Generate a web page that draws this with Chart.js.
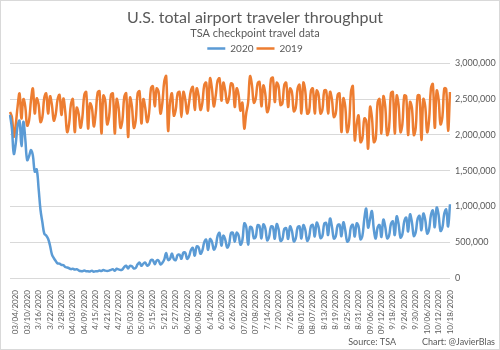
<!DOCTYPE html>
<html>
<head>
<meta charset="utf-8">
<script src="https://cdn.jsdelivr.net/npm/chart.js@4.4.0/dist/chart.umd.min.js"></script>
<style>
  html, body { margin: 0; padding: 0; background: #fff; }
  #wrap { width: 500px; height: 350px; position: relative; }
</style>
</head>
<body>
<div id="wrap"><canvas id="tsaChart" width="500" height="350"></canvas></div>
<script>
// Daily throughput in thousands, 3/1/2020 .. 10/18/2020 (one row per week, Sun..Sat)
const traveler2020 = [
  2281, 2090, 1736, 1877, 2130, 2199, 1845,
  2183, 1950, 1650, 1703, 1788, 1714, 1486,
  1519, 1258, 954, 780, 621, 593, 548,
  455, 331, 279, 239, 204, 200, 184,
  180, 154, 146, 136, 124, 130, 118,
  122, 108, 97, 95, 104, 94, 93,
  91, 102, 88, 95, 95, 105, 97,
  112, 103, 99, 103, 114, 123, 102,
  129, 120, 111, 120, 155, 172, 134,
  170, 163, 133, 142, 191, 216, 170,
  201, 215, 174, 190, 250, 251, 193,
  243, 244, 191, 212, 261, 349, 253,
  267, 341, 265, 249, 321, 327, 268,
  353, 353, 267, 304, 391, 419, 312,
  441, 430, 339, 387, 502, 535, 393,
  545, 509, 398, 441, 590, 631, 453,
  591, 538, 426, 470, 628, 632, 508,
  633, 596, 466, 527, 764, 718, 466,
  711, 701, 557, 574, 737, 724, 554,
  749, 700, 528, 573, 718, 715, 548,
  752, 683, 519, 545, 686, 697, 546,
  720, 660, 512, 552, 708, 721, 551,
  738, 677, 521, 567, 725, 740, 580,
  774, 711, 559, 589, 759, 766, 601,
  831, 721, 552, 581, 735, 746, 583,
  778, 672, 510, 540, 713, 743, 580,
  764, 720, 540, 589, 823, 968, 705,
  820, 935, 682, 552, 707, 740, 574,
  815, 716, 555, 590, 756, 790, 600,
  860, 757, 566, 612, 792, 845, 651,
  889, 779, 587, 641, 827, 867, 668,
  900, 814, 622, 679, 881, 943, 709,
  984, 884, 659, 705, 900, 957, 720,
  1031
];

// Same weekday one year earlier, thousands
const traveler2019 = [
  2320, 2250, 1975, 2140, 2400, 2580, 2230,
  2500, 2400, 2130, 2200, 2480, 2650, 2300,
  2510, 2430, 2180, 2250, 2520, 2580, 2300,
  2540, 2420, 2200, 2290, 2500, 2560, 2280,
  2510, 2330, 2040, 2150, 2430, 2500, 2040,
  2380, 2300, 2100, 2250, 2560, 2600, 2090,
  2440, 2380, 2120, 2300, 2590, 2610, 2020,
  2550, 2480, 2150, 2250, 2560, 2580, 2020,
  2500, 2380, 2100, 2200, 2530, 2580, 1970,
  2520, 2400, 2100, 2200, 2580, 2610, 2160,
  2500, 2380, 2180, 2300, 2650, 2680, 2400,
  2650, 2600, 2300, 2450, 2750, 2820, 2060,
  2450, 2580, 2270, 2350, 2580, 2600, 2250,
  2600, 2500, 2300, 2450, 2620, 2670, 2350,
  2650, 2550, 2350, 2450, 2700, 2730, 2340,
  2790, 2650, 2400, 2550, 2760, 2790, 2480,
  2730, 2620, 2450, 2520, 2720, 2700, 2390,
  2650, 2560, 2340, 2450, 2090, 2300, 2450,
  2820, 2700, 2450, 2510, 2720, 2740, 2400,
  2690, 2580, 2320, 2400, 2780, 2800, 2460,
  2730, 2680, 2420, 2440, 2700, 2730, 2390,
  2650, 2600, 2330, 2380, 2650, 2700, 2300,
  2730, 2620, 2300, 2320, 2620, 2650, 2300,
  2620, 2560, 2300, 2350, 2620, 2620, 2300,
  2600, 2500, 2250, 2300, 2560, 2580, 2040,
  2510, 2400, 2040, 2150, 2600, 2680, 1930,
  2150, 2270, 1900, 1950, 2230, 2200, 1810,
  2390, 2250, 1900, 1950, 2450, 2500, 2020,
  2540, 2400, 2000, 2100, 2580, 2600, 2020,
  2550, 2420, 2040, 2150, 2550, 2540, 2000,
  2460, 2380, 2000, 2100, 2550, 2550, 1930,
  2500, 2400, 2040, 2200, 2650, 2710, 2100,
  2620, 2500, 2150, 2250, 2650, 2640, 2060,
  2600
];

// Shown x labels: every 6th day starting at 3/4
const tickLabels = [
  '03/04/2020', '03/10/2020', '3/16/2020', '3/22/2020', '3/28/2020',
  '04/03/2020', '04/09/2020', '4/15/2020', '4/21/2020', '4/27/2020',
  '05/03/2020', '05/09/2020', '5/15/2020', '5/21/2020', '5/27/2020',
  '06/02/2020', '06/08/2020', '6/14/2020', '6/20/2020', '6/26/2020',
  '07/02/2020', '07/08/2020', '7/14/2020', '7/20/2020', '7/26/2020',
  '08/01/2020', '08/07/2020', '8/13/2020', '8/19/2020', '8/25/2020',
  '8/31/2020', '09/06/2020', '09/12/2020', '9/18/2020', '9/24/2020',
  '9/30/2020', '10/06/2020', '10/12/2020', '10/18/2020'
];
const firstTick = 3;
const tickStep = 6;

// one category per day
const days = [];
for (let i = 0; i < traveler2020.length; i++) {
  const d = new Date(2020, 2, 1 + i);
  days.push((d.getMonth() + 1) + '/' + d.getDate() + '/2020');
}

const grey = '#595959';
const fontFamily = 'Lato, "Open Sans", sans-serif';

// footer text + outer border
const footerPlugin = {
  id: 'footer',
  afterDraw(chart) {
    const ctx = chart.ctx;
    ctx.save();
    ctx.fillStyle = grey;
    ctx.font = '9px ' + fontFamily;
    ctx.textAlign = 'right';
    ctx.textBaseline = 'middle';
    ctx.fillText('Chart: @JavierBlas', 495, 342);
    ctx.fillText('Source: TSA', 396, 342);
    ctx.strokeStyle = '#d9d9d9';
    ctx.lineWidth = 1;
    ctx.strokeRect(0.5, 0.5, chart.width - 1, chart.height - 1);
    ctx.restore();
  }
};

new Chart(document.getElementById('tsaChart'), {
  type: 'line',
  data: {
    labels: days,
    datasets: [
      {
        label: '2020',
        data: traveler2020.map(v => v * 1000),
        borderColor: '#5B9BD5',
        backgroundColor: '#5B9BD5',
        borderWidth: 2.5,
        pointRadius: 0,
        tension: 0.4
      },
      {
        label: '2019',
        data: traveler2019.map(v => v * 1000),
        borderColor: '#ED7D31',
        backgroundColor: '#ED7D31',
        borderWidth: 2.5,
        pointRadius: 0,
        tension: 0.4
      }
    ]
  },
  options: {
    responsive: false,
    animation: false,
    layout: { padding: { left: 10, right: 0, top: 0, bottom: 14 } },
    plugins: {
      title: {
        display: true,
        text: 'U.S. total airport traveler throughput',
        color: grey,
        font: { family: fontFamily, size: 16, weight: 'normal' },
        padding: { top: 8, bottom: 0 }
      },
      subtitle: {
        display: true,
        text: 'TSA checkpoint travel data',
        color: grey,
        font: { family: fontFamily, size: 11, weight: 'normal' },
        padding: { top: 0, bottom: 0 }
      },
      legend: {
        display: true,
        position: 'top',
        labels: {
          color: grey,
          font: { family: fontFamily, size: 10 },
          boxWidth: 18,
          boxHeight: 0,
          padding: 3
        }
      },
      tooltip: { enabled: false }
    },
    scales: {
      x: {
        grid: { display: false },
        border: { display: false },
        ticks: {
          autoSkip: false,
          minRotation: 90,
          maxRotation: 90,
          color: grey,
          font: { family: fontFamily, size: 8 },
          padding: 4,
          callback: function (value, index) {
            const k = (index - firstTick) / tickStep;
            return Number.isInteger(k) && k >= 0 ? tickLabels[k] : null;
          }
        },
        afterFit(scale) { scale.height = 58; }
      },
      y: {
        position: 'right',
        min: 0,
        max: 3000000,
        grid: { color: '#d9d9d9', lineWidth: 1, drawTicks: false },
        border: { display: false },
        ticks: {
          stepSize: 500000,
          color: grey,
          padding: 5,
          font: { family: fontFamily, size: 9 },
          callback: v => v.toLocaleString('en-US')
        },
        afterFit(scale) { scale.width = 50; }
      }
    }
  },
  plugins: [footerPlugin]
});
</script>
</body>
</html>
